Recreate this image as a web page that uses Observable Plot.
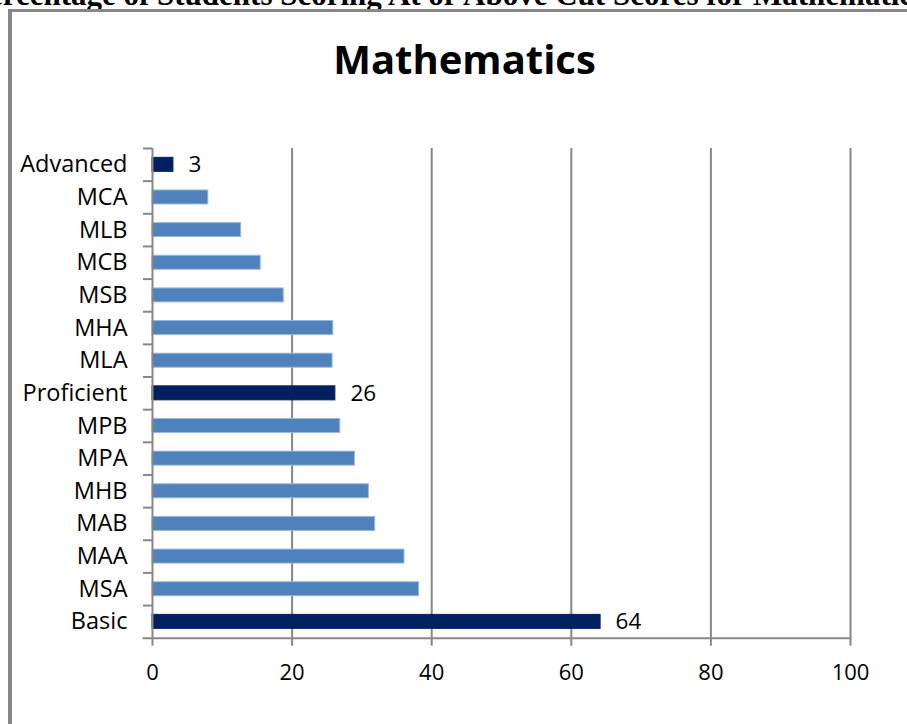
<!DOCTYPE html>
<html>
<head>
<meta charset="utf-8">
<script src="https://cdn.jsdelivr.net/npm/d3@7"></script>
<script src="https://cdn.jsdelivr.net/npm/@observablehq/plot@0.6"></script>
<style>
  html, body { margin: 0; padding: 0; background: #fff; overflow: hidden; }
  #wrap { position: relative; width: 907px; height: 724px; overflow: hidden; background: #fff; }
  #doctitle { position: absolute; left: -30px; top: -21px; white-space: nowrap;
    font: bold 31px/32px "Liberation Serif", "Times New Roman", serif; color: #000; }
  #box { position: absolute; left: 8px; top: 9px; width: 920px; height: 740px;
    border-left: 4px solid #878787; border-top: 3px solid #878787; }
  #title { position: absolute; left: 0; width: 929px; top: 39px; text-align: center;
    font: bold 40px/40px "Open Sans", sans-serif; color: #000; }
  #chart { position: absolute; left: 0; top: 100px; }
</style>
</head>
<body>
<div id="wrap">
  <div id="doctitle">Percentage of Students Scoring At or Above Cut Scores for Mathematics</div>
  <div id="box"></div>
  <div id="title">Mathematics</div>
  <div id="chart"></div>
</div>
<script>
const categories = ["Advanced","MCA","MLB","MCB","MSB","MHA","MLA","Proficient","MPB","MPA","MHB","MAB","MAA","MSA","Basic"];
const values = [3, 8, 12.7, 15.5, 18.8, 25.9, 25.8, 26.2, 26.9, 29, 31, 31.9, 36.1, 38.2, 64.2];
const levels = ["Advanced","Proficient","Basic"];
const xTicks = [0, 20, 40, 60, 80, 100];

const data = categories.map((c, i) => ({category: c, value: values[i], level: levels.includes(c)}));

const width = 907, height = 624;
const marginTop = 48, marginBottom = 86.3, marginLeft = 152, marginRight = 57;
const step = (height - marginTop - marginBottom) / categories.length;
const barH = 14;
const inset = (step - barH) / 2;
const gray = "#878787";
const font = "'Open Sans', sans-serif";

const plot = Plot.plot({
  width, height, marginTop, marginBottom, marginLeft, marginRight,
  style: {fontFamily: font, fontSize: "22px", color: "#000", background: "transparent"},
  x: {domain: [0, 100], axis: null, label: null},
  y: {domain: categories, padding: 0, round: false, axis: null, label: null},
  marks: [
    Plot.gridX(xTicks.slice(1), {stroke: gray, strokeOpacity: 1, strokeWidth: 2}),
    Plot.barX(data, {
      x: "value", y: "category", insetTop: inset, insetBottom: inset,
      fill: d => d.level ? "#002060" : "#4f81bd",
      stroke: d => d.level ? "#002060" : "#9bb7dc", strokeWidth: 1
    }),
    Plot.ruleX([0], {stroke: gray, strokeWidth: 2}),
    Plot.frame({anchor: "bottom", stroke: gray, strokeWidth: 2, insetLeft: -9}),
    // category labels
    Plot.axisY({tickSize: 0, tickPadding: 25, fontSize: 23.5, fill: "#000", label: null}),
    // boundary ticks between categories
    Plot.axisY({tickSize: 9, text: null, stroke: gray, strokeWidth: 2, dy: -step / 2, label: null}),
    Plot.axisX({ticks: xTicks, tickSize: 8, tickPadding: 18, stroke: gray, strokeWidth: 2,
      fontSize: 22, fill: "#000", tickFormat: d3.format("d"), label: null}),
    Plot.text(data.filter(d => d.level), {
      x: "value", y: "category", text: d => d3.format(".0f")(d.value),
      dx: 15, textAnchor: "start", fontSize: 22.5, fill: "#000"
    })
  ]
});
document.getElementById("chart").appendChild(plot);
</script>
</body>
</html>
